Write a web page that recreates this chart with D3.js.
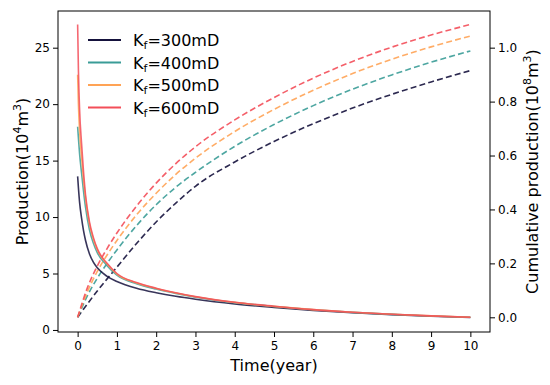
<!DOCTYPE html>
<html><head><meta charset="utf-8">
<script src="https://cdn.jsdelivr.net/npm/d3@7"></script>
<style>
body{margin:0;background:#fff;}
text{font-family:"DejaVu Sans",sans-serif;fill:#000;}
</style></head>
<body><svg id="c" width="550" height="385"></svg>
<script>
// ---- data ----
const seriesNames = ["K_f=300mD","K_f=400mD","K_f=500mD","K_f=600mD"];
const seriesColors = ["#15123d","#3a9c97","#ffa355","#f34e59"];
const tProd = [0,0.02,0.05,0.1,0.15,0.2,0.3,0.4,0.5,0.75,1,1.5,2,2.5,3,4,5,6,7,8,9,10];
const prod300 = [13.6,12.6,11.3,9.9,8.8,7.95,6.75,6.0,5.5,4.75,4.3,3.7,3.3,2.98,2.72,2.3,1.99,1.73,1.53,1.36,1.22,1.11];
const prod400 = [18.0,17.0,15.6,13.9,12.3,10.9,8.9,7.7,6.85,5.7,4.85,4.1,3.62,3.24,2.91,2.42,2.08,1.79,1.56,1.38,1.24,1.12];
const prod500 = [22.6,20.0,17.6,15.3,13.3,11.7,9.4,8.05,7.1,5.85,4.95,4.17,3.68,3.28,2.94,2.44,2.09,1.8,1.57,1.39,1.25,1.13];
const prod600 = [27.05,23.0,19.5,16.5,14.0,12.0,9.6,8.2,7.2,5.9,5.0,4.2,3.7,3.3,2.95,2.45,2.1,1.8,1.57,1.39,1.25,1.13];
const tCum = [0,0.25,0.5,0.75,1,1.5,2,2.5,3,4,5,6,7,8,9,10];
const cum300 = [0,0.05,0.0975,0.1425,0.186,0.2735,0.3535,0.4235,0.486,0.576,0.652,0.718,0.776,0.827,0.873,0.915];
const cum400 = [0,0.08,0.145,0.2,0.25,0.34,0.4175,0.4825,0.5375,0.634,0.715,0.785,0.846,0.899,0.946,0.988];
const cum500 = [0,0.095,0.17,0.231,0.285,0.38,0.46,0.53,0.59,0.689,0.771,0.842,0.904,0.957,1.003,1.043];
const cum600 = [0,0.11,0.19,0.255,0.3125,0.4125,0.4975,0.57,0.6325,0.732,0.815,0.887,0.949,1.002,1.047,1.086];
const xTicks = [0,1,2,3,4,5,6,7,8,9,10];
const yLeftTicks = [0,5,10,15,20,25];
const yRightTicks = [0,0.2,0.4,0.6,0.8,1.0];

const prodSeries = [prod300,prod400,prod500,prod600];
const cumSeries = [cum300,cum400,cum500,cum600];

// ---- layout ----
const L=58,R=490,T=11,B=332;
const svg=d3.select("#c");
const x=d3.scaleLinear().domain([-0.5,10.5]).range([L,R]);
const yL=d3.scaleLinear().domain([-0.18,28.25]).range([B,T]);
const yR=d3.scaleLinear().domain([-0.0545,1.136]).range([B,T]);

// axes
const ax=svg.append("g").attr("transform",`translate(0,${B})`)
  .call(d3.axisBottom(x).tickValues(xTicks).tickFormat(d3.format("d")).tickSize(5).tickPadding(4));
const ayl=svg.append("g").attr("transform",`translate(${L},0)`)
  .call(d3.axisLeft(yL).tickValues(yLeftTicks).tickFormat(d3.format("d")).tickSize(5).tickPadding(3));
const ayr=svg.append("g").attr("transform",`translate(${R},0)`)
  .call(d3.axisRight(yR).tickValues(yRightTicks).tickFormat(d3.format(".1f")).tickSize(5).tickPadding(3));
[ax,ayl,ayr].forEach(g=>{
  g.select(".domain").remove();
  g.selectAll(".tick line").attr("stroke","#000").attr("stroke-width",1);
  g.selectAll(".tick text").attr("font-size",12).attr("font-family","DejaVu Sans").attr("fill","#000");
});
svg.append("rect").attr("x",L).attr("y",T).attr("width",R-L).attr("height",B-T)
  .attr("fill","none").attr("stroke","#000").attr("stroke-width",1);

// lines
const lineP=d3.line().x((d,i)=>x(tProd[i])).y(d=>yL(d)).curve(d3.curveMonotoneX);
const lineC=d3.line().x((d,i)=>x(tCum[i])).y(d=>yR(d)).curve(d3.curveMonotoneX);
cumSeries.forEach((s,k)=>{
  svg.append("path").attr("d",lineC(s)).attr("fill","none").attr("stroke",seriesColors[k])
    .attr("stroke-width",1.6).attr("stroke-dasharray","6,3.2").attr("stroke-opacity",0.9);
});
prodSeries.forEach((s,k)=>{
  svg.append("path").attr("d",lineP(s)).attr("fill","none").attr("stroke",seriesColors[k])
    .attr("stroke-width",1.6).attr("stroke-opacity",0.85);
});

// legend
const lg=svg.append("g");
seriesNames.forEach((n,k)=>{
  const yy=40+k*22.5;
  lg.append("line").attr("x1",88).attr("x2",121).attr("y1",yy).attr("y2",yy)
    .attr("stroke",seriesColors[k]).attr("stroke-width",1.8);
  const t=lg.append("text").attr("x",133).attr("y",yy+6).attr("font-size",16);
  const parts=n.split("_");
  t.append("tspan").text(parts[0]);
  t.append("tspan").attr("font-size",11).attr("dy",3).text(parts[1].slice(0,1));
  t.append("tspan").attr("dy",-3).text(parts[1].slice(1));
});

// axis labels
svg.append("text").attr("x",(L+R)/2).attr("y",371).attr("text-anchor","middle").attr("font-size",16).text("Time(year)");
const yl=svg.append("text").attr("transform","translate(28,171.5) rotate(-90)").attr("text-anchor","middle").attr("font-size",16);
yl.append("tspan").text("Production(10");
yl.append("tspan").attr("font-size",11).attr("dy",-7).text("4");
yl.append("tspan").attr("dy",7).text("m");
yl.append("tspan").attr("font-size",11).attr("dy",-7).text("3");
yl.append("tspan").attr("dy",7).text(")");
const yr=svg.append("text").attr("transform","translate(538,171.5) rotate(-90)").attr("text-anchor","middle").attr("font-size",16);
yr.append("tspan").text("Cumulative production(10");
yr.append("tspan").attr("font-size",11).attr("dy",-7).text("8");
yr.append("tspan").attr("dy",7).text("m");
yr.append("tspan").attr("font-size",11).attr("dy",-7).text("3");
yr.append("tspan").attr("dy",7).text(")");
</script></body></html>
